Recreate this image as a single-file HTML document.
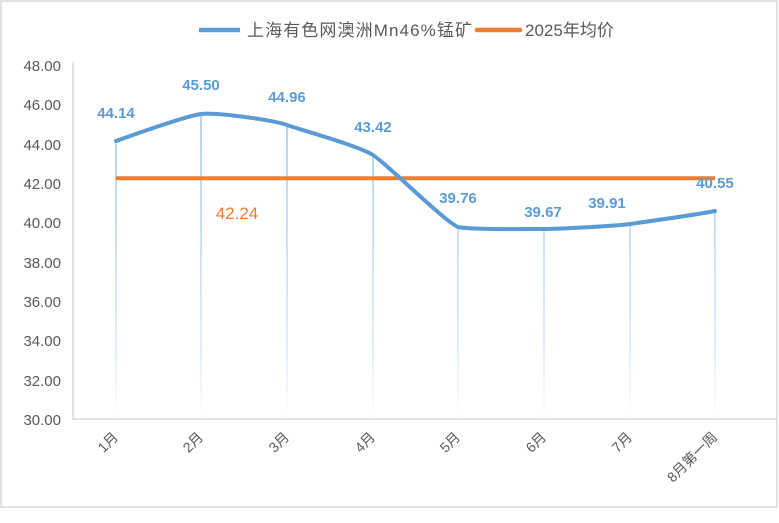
<!DOCTYPE html><html><head><meta charset="utf-8"><style>body{margin:0;background:#fff}svg{display:block}text{font-family:"Liberation Sans","Noto Sans CJK SC",sans-serif}</style></head><body>
<svg width="779" height="523" viewBox="0 0 779 523">
<defs><linearGradient id="g" gradientUnits="userSpaceOnUse" x1="0" y1="110" x2="0" y2="419"><stop offset="0" stop-color="#9dc3e6"/><stop offset="0.75" stop-color="#d6e6f5"/><stop offset="1" stop-color="#fff"/></linearGradient></defs>
<rect x="1" y="1" width="776" height="506" fill="#fff" stroke="#d9d9d9" stroke-width="1.5"/>
<g fill="#595959" font-size="15" text-anchor="end">
<text x="61" y="71">48.00</text><text x="61" y="110">46.00</text><text x="61" y="150">44.00</text><text x="61" y="189">42.00</text><text x="61" y="228">40.00</text><text x="61" y="268">38.00</text><text x="61" y="307">36.00</text><text x="61" y="346">34.00</text><text x="61" y="386">32.00</text><text x="61" y="425">30.00</text></g>
<g stroke="url(#g)" stroke-width="1.5">
<line x1="116" y1="141" x2="116" y2="419"/><line x1="201" y1="114" x2="201" y2="419"/><line x1="287" y1="125" x2="287" y2="419"/><line x1="373" y1="155" x2="373" y2="419"/><line x1="458" y1="227" x2="458" y2="419"/><line x1="544" y1="229" x2="544" y2="419"/><line x1="630" y1="224" x2="630" y2="419"/><line x1="715" y1="211" x2="715" y2="419"/></g>
<path d="M73 62V419H777" fill="none" stroke="#d9d9d9" stroke-width="1.5"/>
<line x1="116" y1="178.3" x2="715" y2="178.3" stroke="#ed7d31" stroke-width="4"/>
<path d="M116 141C130 136 186 116 201 114C215 112 273 120 287 125C301 130 359 146 373 155C387 164 444 221 458 227C472 230 530 229 544 229C558 229 616 226 630 224C644 222 701 214 715 211" fill="none" stroke="#5b9bd5" stroke-width="4" stroke-linecap="round"/>
<g fill="#5b9bd5" font-size="15" font-weight="bold" text-anchor="middle">
<text x="116" y="118">44.14</text><text x="201" y="90">45.50</text><text x="287" y="102">44.96</text><text x="373" y="132">43.42</text><text x="458" y="203">39.76</text><text x="543" y="217">39.67</text><text x="607" y="208">39.91</text><text x="715" y="188">40.55</text></g>
<text x="237" y="219" fill="#ed7d31" font-size="17" text-anchor="middle">42.24</text>
<g fill="#595959" font-size="14" text-anchor="end">
<text transform="translate(119,438) rotate(-45)">1月</text><text transform="translate(204,438) rotate(-45)">2月</text><text transform="translate(290,438) rotate(-45)">3月</text><text transform="translate(376,438) rotate(-45)">4月</text><text transform="translate(461,438) rotate(-45)">5月</text><text transform="translate(547,438) rotate(-45)">6月</text><text transform="translate(633,438) rotate(-45)">7月</text><text transform="translate(718,438) rotate(-45)">8月第一周</text></g>
<line x1="199" y1="30" x2="240" y2="30" stroke="#5b9bd5" stroke-width="4.5"/>
<text x="247" y="36" fill="#595959" font-size="17" textLength="225">上海有色网澳洲Mn46%锰矿</text>
<line x1="477" y1="30" x2="520" y2="30" stroke="#ed7d31" stroke-width="4.5" stroke-linecap="round"/>
<text x="525" y="36" fill="#595959" font-size="17">2025年均价</text>
</svg></body></html>
